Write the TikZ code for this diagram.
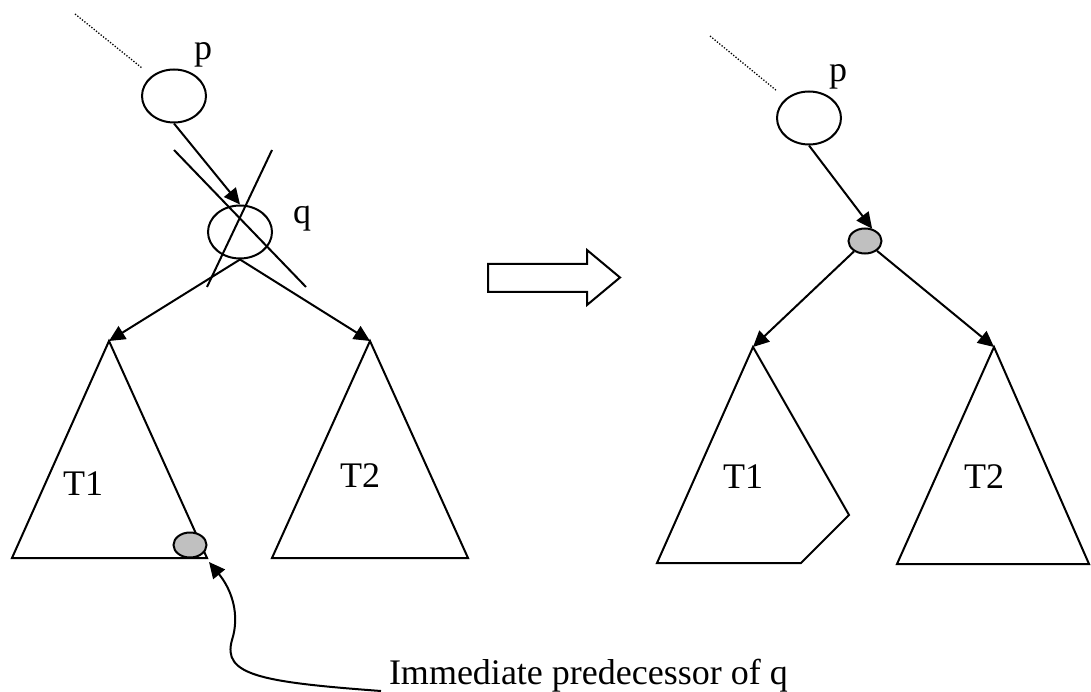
\documentclass[tikz,border=0pt]{standalone}
\usepackage{fontspec}
\setmainfont{Liberation Serif}
\usetikzlibrary{arrows.meta,shapes.geometric}
\definecolor{nodegrey}{RGB}{192,192,192}
\begin{document}
\begin{tikzpicture}[x=1pt,y=-1pt,
  line width=2pt, line join=miter,
  arr/.style={-{Triangle[length=16pt,width=15pt]}},
  bignode/.style={draw, ellipse, minimum width=64pt, minimum height=53pt, inner sep=0pt},
  smallnode/.style={draw, ellipse, fill=nodegrey, minimum width=33pt, minimum height=25pt, inner sep=0pt},
  lbl/.style={anchor=base, inner sep=0pt, font=\fontsize{36}{43}\selectfont},
  dotline/.style={line width=1.3pt, dash pattern=on 1.3pt off 1.7pt}
]
\useasboundingbox (0,0) rectangle (1091,692);

% ---------- left picture ----------
\coordinate (dlA) at (75,14);
\coordinate (dlB) at (142,68);
\draw[dotline] (dlA) -- (dlB);
\node[bignode] (pl) at (174,96) {};
\node[lbl] (plab) at (203,60) {p};
\node[bignode] (ql) at (240,232) {};
\node[lbl] (qlab) at (302,223.5) {q};
\draw[arr] (pl.south) -- (ql.north);

% cross marks over q
\coordinate (xA1) at (174,150);
\coordinate (xA2) at (306,287);
\coordinate (xB1) at (272,150);
\coordinate (xB2) at (207,287);
\draw (xA1) -- (xA2);
\draw (xB1) -- (xB2);

% subtrees
\coordinate (t1a) at (109,341);
\coordinate (t1l) at (12,558);
\coordinate (t1r) at (207,558);
\draw (t1a) -- (t1l) -- (t1r) -- cycle;
\coordinate (t2a) at (370,341);
\coordinate (t2l) at (272,558);
\coordinate (t2r) at (468,558);
\draw (t2a) -- (t2l) -- (t2r) -- cycle;
\draw[arr] (ql.south) -- (t1a);
\draw[arr] (ql.south) -- (t2a);
\node[smallnode] (gl) at (190,545) {};
\node[lbl] (t1lab) at (83,495) {T1};
\node[lbl] (t2lab) at (360,487) {T2};

% annotation
\node[lbl, anchor=base west] (imm) at (388,684) {Immediate predecessor of q};
\coordinate (cs) at (381,691);
\coordinate (ce) at (209,562);
\draw[arr] (cs) .. controls (260,682) and (222,675) .. (232,640)
               .. controls (240,615) and (232,590) .. (ce);

% ---------- hollow arrow ----------
\draw (488,264) -- (587,264) -- (587,250) -- (620,277.5) -- (587,305)
      -- (587,292) -- (488,292) -- cycle;

% ---------- right picture ----------
\coordinate (drA) at (710,36);
\coordinate (drB) at (777,91);
\draw[dotline] (drA) -- (drB);
\node[bignode] (pr) at (809,118) {};
\node[lbl] (prlab) at (838,82) {p};
\node[smallnode] (gr) at (865,241) {};
\draw[arr] (pr.south) -- (gr.60);

\coordinate (u1a) at (753,347);
\draw (u1a) -- (657,563) -- (801,563) -- (849,515) -- cycle;
\coordinate (u2a) at (994,347);
\draw (u2a) -- (897,564) -- (1089,564) -- cycle;
\draw[arr] (gr) -- (u1a);
\draw[arr] (gr) -- (u2a);
\node[lbl] (u1lab) at (743,488) {T1};
\node[lbl] (u2lab) at (984,488) {T2};
\end{tikzpicture}
\end{document}
